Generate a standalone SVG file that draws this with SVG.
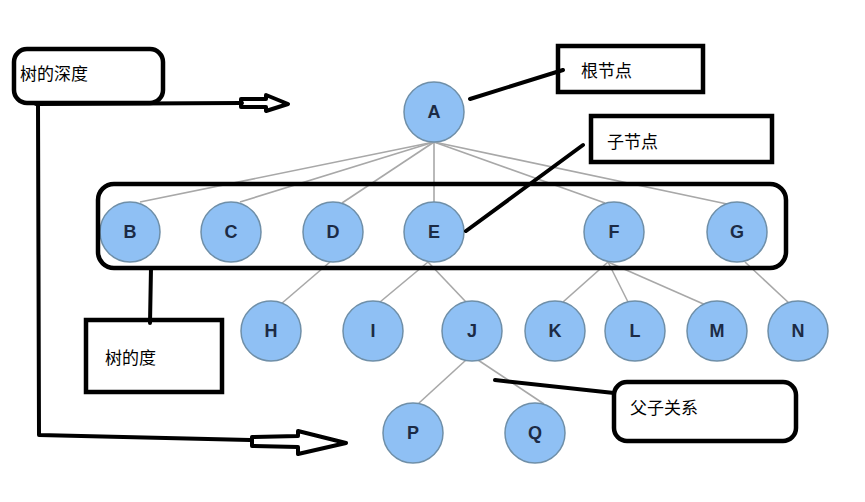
<svg xmlns="http://www.w3.org/2000/svg" width="865" height="502" viewBox="0 0 865 502">
<style>
.n circle{fill:#8fc0f4;stroke:#6f8fa8;stroke-width:1.5}
.n text{font-family:"Liberation Sans",Arial,sans-serif;font-size:18px;font-weight:bold;fill:#1c2b45;text-anchor:middle;dominant-baseline:central}
.e line{stroke:#a8a8a8;stroke-width:1.6}
.ann{fill:none;stroke:#000;stroke-width:4.5}
.lbl{font-family:"Liberation Sans","Noto Sans CJK SC",sans-serif;font-size:17px;fill:#000}
.k{fill:none;stroke:#000;stroke-width:4;stroke-linejoin:round;stroke-linecap:round}
</style>
<rect width="865" height="502" fill="#fff"/>
<g id="connectors" class="e">
<line x1="434" y1="142" x2="140" y2="202"/>
<line x1="434" y1="142" x2="240" y2="202"/>
<line x1="434" y1="142" x2="342" y2="203"/>
<line x1="434" y1="142" x2="434" y2="202"/>
<line x1="434" y1="142" x2="605" y2="203"/>
<line x1="434" y1="142" x2="727" y2="204"/>
<line x1="330" y1="262" x2="281" y2="304"/>
<line x1="428" y1="262" x2="380" y2="302"/>
<line x1="428" y1="262" x2="466" y2="302"/>
<line x1="608" y1="262" x2="563" y2="302"/>
<line x1="608" y1="262" x2="628" y2="302"/>
<line x1="608" y1="262" x2="708" y2="306"/>
<line x1="745" y1="262" x2="790" y2="304"/>
<line x1="466" y1="360" x2="419" y2="403"/>
<line x1="478" y1="360" x2="544" y2="404"/>
</g>
<g id="A" class="n"><circle cx="434" cy="112" r="30"/><text x="434" y="112">A</text></g>
<g id="B" class="n"><circle cx="130" cy="232" r="30"/><text x="130" y="232">B</text></g>
<g id="C" class="n"><circle cx="231" cy="232" r="30"/><text x="231" y="232">C</text></g>
<g id="D" class="n"><circle cx="333" cy="232" r="30"/><text x="333" y="232">D</text></g>
<g id="E" class="n"><circle cx="434" cy="232" r="30"/><text x="434" y="232">E</text></g>
<g id="F" class="n"><circle cx="614" cy="232" r="30"/><text x="614" y="232">F</text></g>
<g id="G" class="n"><circle cx="737" cy="232" r="30"/><text x="737" y="232">G</text></g>
<g id="H" class="n"><circle cx="271" cy="331" r="30"/><text x="271" y="331">H</text></g>
<g id="I" class="n"><circle cx="373" cy="331" r="30"/><text x="373" y="331">I</text></g>
<g id="J" class="n"><circle cx="472" cy="331" r="30"/><text x="472" y="331">J</text></g>
<g id="K" class="n"><circle cx="555" cy="331" r="30"/><text x="555" y="331">K</text></g>
<g id="L" class="n"><circle cx="635" cy="331" r="30"/><text x="635" y="331">L</text></g>
<g id="M" class="n"><circle cx="717" cy="331" r="30"/><text x="717" y="331">M</text></g>
<g id="N" class="n"><circle cx="798" cy="331" r="30"/><text x="798" y="331">N</text></g>
<g id="P" class="n"><circle cx="413" cy="433" r="30"/><text x="413" y="433">P</text></g>
<g id="Q" class="n"><circle cx="535" cy="433" r="30"/><text x="535" y="433">Q</text></g>
<g id="annotations">
<rect class="ann" x="98" y="184" width="688" height="84" rx="16"/>
<g id="depth">
<rect class="ann" x="14" y="49" width="149" height="54" rx="13"/>
<text class="lbl" x="20" y="80">树的深度</text>
<path class="k" d="M36 104 L242 103 M38 104 L39 435 L250 440"/>
<path class="k" stroke-width="3" d="M241 99 L266 99 L266 95 L288 104 L266 111 L266 107 L241 107 Z"/>
<path class="k" stroke-width="3" d="M252 437 L298 436 L298 431 L346 443 L298 454 L298 447 L252 446 Z"/>
</g>
<g id="root">
<rect class="ann" x="558" y="46" width="145" height="46"/>
<text class="lbl" x="581" y="77">根节点</text>
<line class="k" stroke-width="4.5" x1="470" y1="99" x2="563" y2="70"/>
</g>
<g id="child">
<rect class="ann" x="591" y="116" width="181" height="46"/>
<text class="lbl" x="607" y="148">子节点</text>
<line class="k" stroke-width="4.5" x1="466" y1="231" x2="583" y2="145"/>
</g>
<g id="degree">
<rect class="ann" x="86" y="320" width="136" height="72"/>
<text class="lbl" x="105" y="364">树的度</text>
<line class="k" stroke-width="4.5" x1="151" y1="268" x2="150" y2="323"/>
</g>
<g id="parent">
<rect class="ann" x="614" y="382" width="182" height="59" rx="13"/>
<text class="lbl" x="630" y="414">父子关系</text>
<line class="k" stroke-width="4.5" x1="495" y1="380" x2="614" y2="393"/>
</g>
</g>
</svg>
